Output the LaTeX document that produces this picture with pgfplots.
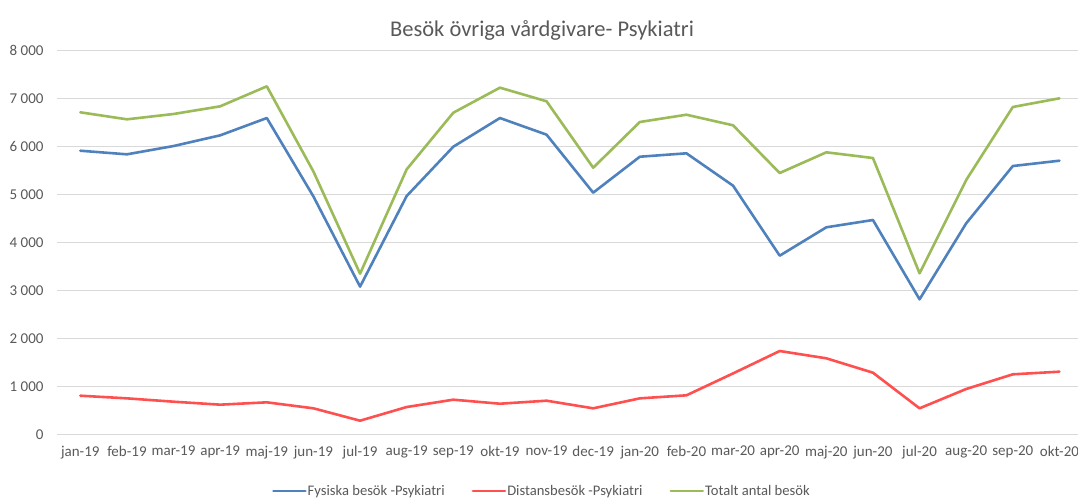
\documentclass[border=0pt]{standalone}
\usepackage{fontspec}
\setmainfont{Carlito}
\usepackage{pgfplots}
\pgfplotsset{compat=1.18}
\usetikzlibrary{calc}
\definecolor{txt}{RGB}{89,89,89}
\definecolor{cblue}{RGB}{79,129,189}
\definecolor{cred}{RGB}{255,80,80}
\definecolor{cgreen}{RGB}{155,187,89}
\definecolor{gridc}{RGB}{217,217,217}
\begin{document}
\begin{tikzpicture}
\begin{axis}[
  name=ax,
  scale only axis,
  width=1022pt, height=383.6pt,
  xmin=-0.5, xmax=21.42, ymin=0, ymax=8000,
  axis line style={draw=none},
  major tick length=0pt,
  ymajorgrids, grid style={gridc, line width=0.8pt},
  ytick={0,1000,2000,3000,4000,5000,6000,7000,8000},
  yticklabels={0,1 000,2 000,3 000,4 000,5 000,6 000,7 000,8 000},
  xtick={0,...,21},
  xticklabels={jan-19,feb-19,mar-19,apr-19,maj-19,jun-19,jul-19,aug-19,sep-19,okt-19,nov-19,dec-19,jan-20,feb-20,mar-20,apr-20,maj-20,jun-20,jul-20,aug-20,sep-20,okt-20},
  ticklabel style={font=\fontsize{15}{17}\selectfont, text=txt},
  yticklabel style={xshift=-10pt},
  xticklabel style={yshift=-8pt},
  legend columns=3,
  legend style={draw=none, at={(0.474,-0.148)}, anchor=center,
    font=\fontsize{14.6}{16}\selectfont, text=txt,
    /tikz/every even column/.append style={column sep=26pt},
    nodes={inner sep=1pt}},
  legend image code/.code={\draw[#1] (0pt,0pt) -- (32pt,0pt);},
  every axis plot/.append style={line width=2.6pt, line join=round, line cap=round},
]
\addplot[cblue] coordinates {(0,5914)(1,5839)(2,6012)(3,6235)(4,6596)(5,4960)(6,3080)(7,4970)(8,5998)(9,6596)(10,6249)(11,5039)(12,5789)(13,5860)(14,5185)(15,3725)(16,4317)(17,4469)(18,2815)(19,4400)(20,5595)(21,5706)};
\addlegendentry{Fysiska besök -Psykiatri}
\addplot[cred] coordinates {(0,805)(1,750)(2,680)(3,618)(4,667)(5,542)(6,284)(7,569)(8,722)(9,638)(10,701)(11,542)(12,750)(13,813)(14,1270)(15,1737)(16,1585)(17,1285)(18,542)(19,945)(20,1251)(21,1306)};
\addlegendentry{Distansbesök -Psykiatri}
\addplot[cgreen] coordinates {(0,6715)(1,6569)(2,6680)(3,6840)(4,7257)(5,5480)(6,3350)(7,5526)(8,6707)(9,7229)(10,6945)(11,5560)(12,6513)(13,6665)(14,6444)(15,5449)(16,5881)(17,5762)(18,3357)(19,5303)(20,6826)(21,7007)};
\addlegendentry{Totalt antal besök}
\end{axis}
\node[text=txt, font=\fontsize{22.5}{26}\selectfont] at ($(ax.south west)+(485pt,404.3pt)$) {Besök övriga vårdgivare- Psykiatri};
\pgfresetboundingbox
\path (ax.south west) ++(-57pt,-64.7pt) rectangle ++(1078pt,499pt);
\end{tikzpicture}
\end{document}
